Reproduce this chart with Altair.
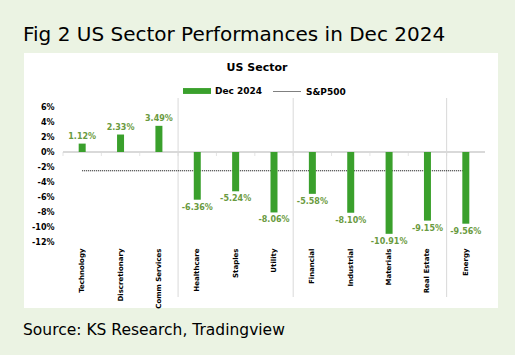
import altair as alt
import pandas as pd

sectors = ["Technology", "Discretionary", "Comm Services", "Healthcare", "Staples",
           "Utility", "Financial", "Industrial", "Materials", "Real Estate", "Energy"]
returns = [1.12, 2.33, 3.49, -6.36, -5.24, -8.06, -5.58, -8.10, -10.91, -9.15, -9.56]
sp500 = -2.5
separators = ["Healthcare", "Financial", "Energy"]
y_ticks = [6, 4, 2, 0, -2, -4, -6, -8, -10, -12]

GREEN = "#3AA02C"
LABEL = "#6A9A40"
BG = "#EBF3E3"
FONT = "DejaVu Sans"
W, H = 422, 135

df = pd.DataFrame({"sector": sectors, "ret": returns,
                   "label": [f"{v:.2f}%" for v in returns],
                   "series": ["Dec 2024"] * len(sectors)})
sp_df = pd.DataFrame({"x1": [sectors[0]], "x2": [sectors[-1]], "v": [sp500], "series": ["S&P500"]})
sep_df = pd.DataFrame({"sector": separators})

xscale = alt.Scale(domain=sectors, paddingInner=0, paddingOuter=0)
yscale = alt.Scale(domain=[-12, 6], nice=False)

X_AXIS = alt.Axis(title=None, labelAngle=-90, labelFont=FONT, labelFontSize=7,
                  labelFontWeight="bold", labelColor="black", labelPadding=6,
                  domain=False, ticks=False, grid=False, zindex=1)
Y_AXIS = alt.Axis(title=None, values=y_ticks, labelExpr="datum.value + '%'",
                  labelFont=FONT, labelFontSize=8, labelFontWeight="bold",
                  labelColor="black", labelPadding=9, domain=False, ticks=False,
                  labelOverlap=False, labelFlush=False, labelBound=False,
                  grid=False, zindex=1)

def xenc(field="sector:N", **kw):
    return alt.X(field, scale=xscale, sort=sectors, axis=X_AXIS, **kw)

def yenc(field):
    return alt.Y(field, scale=yscale, axis=Y_AXIS)

base = alt.Chart(df)

panel = alt.Chart(pd.DataFrame({"a": [0]})).mark_rect(color="white").encode(
    x=alt.value(-39), x2=alt.value(435), y=alt.value(-54), y2=alt.value(201))

bars = base.mark_bar(size=7).encode(
    x=xenc(),
    y=yenc("ret:Q"),
    fill=alt.Fill("series:N", scale=alt.Scale(domain=["Dec 2024"], range=[GREEN]),
                  legend=alt.Legend(title=None, orient="none", legendX=120, legendY=-30,
                                    symbolType="M-1,-0.21H1V0.21H-1Z", symbolSize=784,
                                    symbolStrokeWidth=0, labelFont=FONT, labelFontSize=9,
                                    labelFontWeight="bold", labelColor="black", zindex=2)),
)

zero = base.mark_rule(color="#D9D9D9", strokeWidth=1.5).encode(
    y=yenc("z:Q"), x=alt.value(0), x2=alt.value(W)).transform_calculate(z="0")

ticks = base.mark_tick(orient="vertical", size=4, thickness=1, color="#D9D9D9", yOffset=2).encode(
    x=xenc(bandPosition=0), y=yenc("z:Q")).transform_calculate(z="0")

seps = alt.Chart(sep_df).mark_rule(color="#D9D9D9", strokeWidth=1).encode(
    x=xenc(bandPosition=0), y=alt.value(-9), y2=alt.value(190))

sp_line = alt.Chart(sp_df).mark_rule(color="black", strokeWidth=1).encode(
    x=xenc("x1:N"),
    x2="x2:N",
    y=yenc("v:Q"),
    strokeDash=alt.StrokeDash("series:N", scale=alt.Scale(domain=["S&P500"], range=[[1, 1]]),
                              legend=alt.Legend(title=None, orient="none", legendX=210, legendY=-30,
                                                symbolType="stroke", symbolSize=784,
                                                symbolStrokeColor="black", symbolStrokeWidth=1,
                                                symbolDash=[1, 1],
                                                labelFont=FONT, labelFontSize=9,
                                                labelFontWeight="bold", labelColor="black", zindex=2)),
)

pos_text = base.transform_filter("datum.ret >= 0").mark_text(
    baseline="bottom", dy=-3, font=FONT, fontSize=8, fontWeight="bold", color=LABEL).encode(
    x=xenc(), y=yenc("ret:Q"), text="label:N")

neg_text = base.transform_filter("datum.ret < 0").mark_text(
    baseline="top", dy=4, font=FONT, fontSize=8, fontWeight="bold", color=LABEL).encode(
    x=xenc(), y=yenc("ret:Q"), text="label:N")

def label(txt, x, y, size, weight="normal", align="left"):
    return alt.Chart(pd.DataFrame({"t": [txt]})).mark_text(
        align=align, baseline="alphabetic", font=FONT, fontSize=size, fontWeight=weight,
        color="black").encode(text="t:N", x=alt.value(x), y=alt.value(y))

fig_title = label("Fig 2 US Sector Performances in Dec 2024", -40, -66, 20)
sub_title = label("US Sector", 194, -36, 11, weight="bold", align="center")
source = label("Source: KS Research, Tradingview", -40, 228, 15.5)

chart = alt.layer(panel, seps, zero, ticks, sp_line, bars, pos_text, neg_text,
                  fig_title, sub_title, source).properties(
    width=W, height=H, background=BG,
    padding={"left": 63, "top": 107, "right": 30, "bottom": 113},
    autosize=alt.AutoSizeParams(type="none"),
).configure_view(stroke=None).configure_axisY(labelOverlap=False)

chart.save("out.html", embed_options={"renderer": "svg", "actions": False})
